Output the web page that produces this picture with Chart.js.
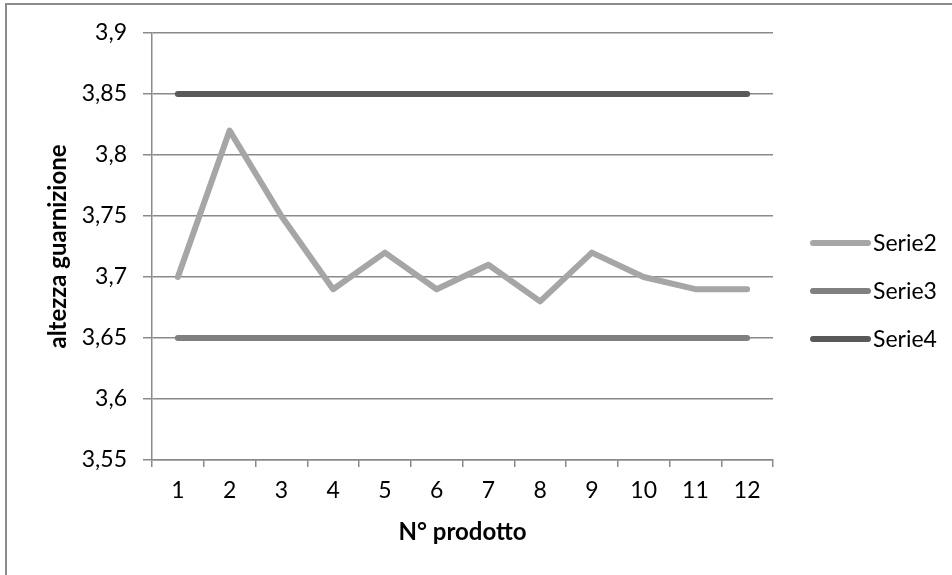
<!DOCTYPE html>
<html>
<head>
<meta charset="utf-8">
<script src="https://cdn.jsdelivr.net/npm/chart.js@4.4.1/dist/chart.umd.min.js"></script>
<style>
  html, body { margin: 0; padding: 0; background: #fff; overflow: hidden; }
  #wrap { width: 952px; height: 575px; position: relative; }
</style>
</head>
<body>
<div id="wrap"><canvas id="chart" width="952" height="575"></canvas></div>
<script>
// Product numbers along the x axis
const categories = ['1', '2', '3', '4', '5', '6', '7', '8', '9', '10', '11', '12'];

// Measured gasket height per product
const serie2 = [3.70, 3.82, 3.75, 3.69, 3.72, 3.69, 3.71, 3.68, 3.72, 3.70, 3.69, 3.69];
// Lower limit
const serie3 = [3.65, 3.65, 3.65, 3.65, 3.65, 3.65, 3.65, 3.65, 3.65, 3.65, 3.65, 3.65];
// Upper limit
const serie4 = [3.85, 3.85, 3.85, 3.85, 3.85, 3.85, 3.85, 3.85, 3.85, 3.85, 3.85, 3.85];

const seriesNames = ['Serie2', 'Serie3', 'Serie4'];

// Value axis ticks and their Italian-formatted labels
const yTickValues = [3.55, 3.6, 3.65, 3.7, 3.75, 3.8, 3.85, 3.9];
const yTickLabels = ['3,55', '3,6', '3,65', '3,7', '3,75', '3,8', '3,85', '3,9'];

const xTitle = 'N° prodotto';
const yTitle = 'altezza guarnizione';

const FONT = 'Lato';
const FONT_SIZE = 23;
const TITLE_SIZE = 24;
const GRID = '#8a8a8a';
const COLORS = ['#a6a6a6', '#808080', '#595959'];

// Legend drawn to the right of the plot, plus the outer chart frame
const sideLegend = {
  id: 'sideLegend',
  beforeDraw(chart) {
    const ctx = chart.ctx;
    ctx.save();
    ctx.strokeStyle = '#8c8c8c';
    ctx.lineWidth = 2;
    ctx.strokeRect(6, 4, 1000, 1000);
    ctx.restore();
  },
  afterDraw(chart) {
    const ctx = chart.ctx;
    const x0 = 813, x1 = 868, tx = 873;
    const ys = [243, 291, 339];
    ctx.save();
    chart.data.datasets.forEach((ds, i) => {
      ctx.strokeStyle = ds.borderColor;
      ctx.lineWidth = ds.borderWidth;
      ctx.lineCap = 'round';
      ctx.beginPath();
      ctx.moveTo(x0, ys[i]);
      ctx.lineTo(x1, ys[i]);
      ctx.stroke();
      ctx.fillStyle = '#000';
      ctx.font = FONT_SIZE + 'px ' + FONT;
      ctx.textBaseline = 'middle';
      ctx.textAlign = 'left';
      ctx.fillText(ds.label, tx, ys[i] + 1);
    });
    ctx.restore();
  }
};

function lineDataset(label, data, color) {
  return {
    label: label,
    data: data,
    borderColor: color,
    backgroundColor: color,
    borderWidth: 6,
    pointRadius: 0,
    pointHoverRadius: 0,
    tension: 0,
    fill: false,
    borderJoinStyle: 'round',
    borderCapStyle: 'round'
  };
}

function draw() {
  new Chart(document.getElementById('chart'), {
    type: 'line',
    data: {
      labels: categories,
      datasets: [
        lineDataset(seriesNames[0], serie2, COLORS[0]),
        lineDataset(seriesNames[1], serie3, COLORS[1]),
        lineDataset(seriesNames[2], serie4, COLORS[2])
      ]
    },
    options: {
      responsive: false,
      animation: false,
      devicePixelRatio: 1,
      layout: {
        autoPadding: false,
        padding: { left: 0, top: 33, right: 179, bottom: 0 }
      },
      plugins: {
        legend: { display: false },
        tooltip: { enabled: false }
      },
      scales: {
        x: {
          type: 'category',
          offset: true,
          afterFit(scale) { scale.height = 115; },
          grid: {
            offset: true,
            drawOnChartArea: false,
            drawTicks: true,
            tickLength: 7,
            color: GRID,
            lineWidth: 1.5
          },
          border: { display: true, color: GRID, width: 1.5 },
          ticks: {
            color: '#000',
            padding: 10,
            maxRotation: 0,
            autoSkip: false,
            font: { family: FONT, size: FONT_SIZE }
          },
          title: {
            display: true,
            text: xTitle,
            color: '#000',
            padding: { top: 0, bottom: 28 },
            font: { family: FONT, size: TITLE_SIZE, weight: 'bold' }
          }
        },
        y: {
          min: 3.55,
          max: 3.9,
          afterFit(scale) { scale.width = 152; },
          afterBuildTicks(scale) {
            scale.ticks = yTickValues.map(v => ({ value: v }));
          },
          grid: {
            drawTicks: true,
            tickLength: 9,
            color: GRID,
            lineWidth: 1.5
          },
          border: { display: true, color: GRID, width: 1.5 },
          ticks: {
            color: '#000',
            padding: 16,
            font: { family: FONT, size: FONT_SIZE },
            callback(value) {
              const i = yTickValues.findIndex(v => Math.abs(v - value) < 1e-6);
              return i >= 0 ? yTickLabels[i] : '';
            }
          },
          title: {
            display: true,
            text: yTitle,
            color: '#000',
            padding: { top: 44, bottom: 0 },
            font: { family: FONT, size: TITLE_SIZE, weight: 'bold' }
          }
        }
      }
    },
    plugins: [sideLegend]
  });
}

if (document.fonts && document.fonts.load) {
  Promise.all([
    document.fonts.load(FONT_SIZE + 'px ' + FONT),
    document.fonts.load('bold ' + TITLE_SIZE + 'px ' + FONT)
  ]).then(draw, draw);
} else {
  draw();
}
</script>
</body>
</html>
